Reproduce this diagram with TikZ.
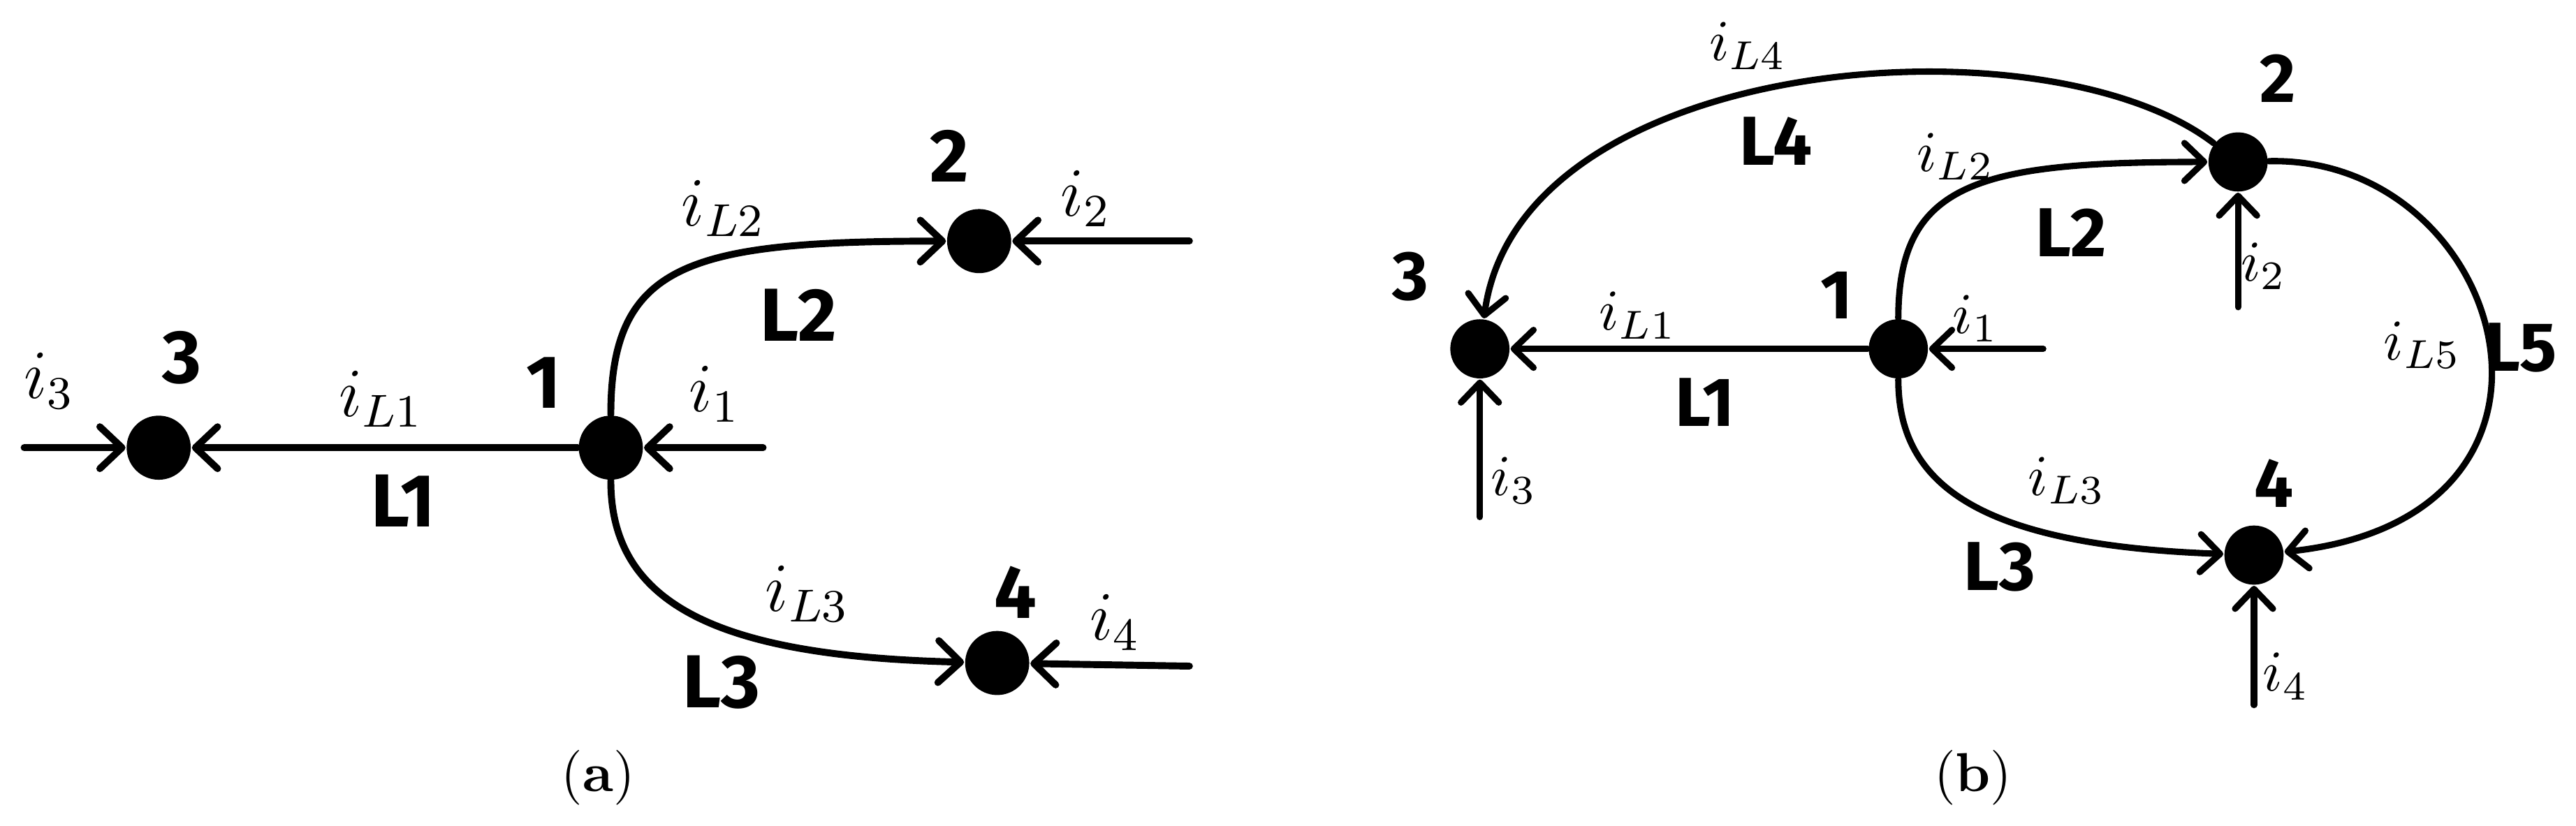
\documentclass[tikz,border=0pt]{standalone}
\usepackage{fontspec}
\newfontfamily\busfont{Fira Sans}
\usetikzlibrary{arrows.meta}

\begin{document}
\begin{tikzpicture}[x=0.01cm, y=-0.01cm, line cap=round,
		bus/.style={circle, fill=black, inner sep=0pt, minimum size=3.9mm},
		num/.style={font=\busfont\bfseries\fontsize{13}{15}\selectfont, inner sep=0pt},
		cur/.style={font=\fontsize{11.5}{13}\selectfont, inner sep=0pt},
		subcap/.style={font=\fontsize{9.5}{11}\selectfont, inner sep=0pt},
		wire/.style={line width=1.2pt},
		arr/.style={wire, -{Straight Barb[length=1.35mm, width=2.55mm, round]}}]
		\useasboundingbox (0,0) rectangle (1568,502.6);

		% (a) radial feeder
		\draw (96.6,272.6) node [bus] (a3) {};
		\draw (371.8,272.6) node [bus] (a1) {};
		\draw (596,146.8) node [bus] (a2) {};
		\draw (607,403.7) node [bus] (a4) {};
		\coordinate (a3in) at (14.7,272.6);
		\coordinate (a1in) at (464.5,272.6);
		\coordinate (a2in) at (724,146.8);
		\coordinate (a4in) at (724,405.6);

		\draw [arr] (a3in) -- (a3);
		\draw [arr] (a1) -- (a3);
		\draw [arr] (a1in) -- (a1);
		\draw [arr] (a2in) -- (a2);
		\draw [arr] (a4in) -- (a4);
		\draw [arr] (a1) .. controls +(0,-113) and +(-176,0) .. (a2);
		\draw [arr] (a1) .. controls +(0,97) and +(-167,-4) .. (a4);

		\draw (110.6,218) node [num] (a3n) {3};
		\draw (331,233) node [num] (a1n) {1};
		\draw (578,95) node [num] (a2n) {2};
		\draw (618,360.6) node [num] (a4n) {4};
		\draw (245.6,305) node [num] (aL1) {L1};
		\draw (486,192) node [num] (aL2) {L2};
		\draw (439,415.4) node [num] (aL3) {L3};

		\draw (30,232) node [cur] (ai3) {$i_3$};
		\draw (232,243) node [cur] (aiL1) {$i_{L1}$};
		\draw (435,240) node [cur] (ai1) {$i_1$};
		\draw (440.5,127) node [cur] (aiL2) {$i_{L2}$};
		\draw (661,121) node [cur] (ai2) {$i_2$};
		\draw (491.5,361.7) node [cur] (aiL3) {$i_{L3}$};
		\draw (679,379) node [cur] (ai4) {$i_4$};

		\draw (364,473.5) node [subcap] (acap) {(\textbf{a})};

		% (b) meshed network
		\begin{scope}[bus/.style={circle, fill=black, inner sep=0pt, minimum size=3.6mm},
				num/.style={font=\busfont\bfseries\fontsize{12}{14}\selectfont, inner sep=0pt},
				cur/.style={font=\fontsize{10}{12}\selectfont, inner sep=0pt},
				wire/.style={line width=1.1pt},
				arr/.style={wire, -{Straight Barb[length=1.2mm, width=2.3mm, round]}}]
			\draw (900.8,212.4) node [bus] (b3) {};
			\draw (1155.5,212.4) node [bus] (b1) {};
			\draw (1362.3,98.6) node [bus] (b2) {};
			\draw (1372,338) node [bus] (b4) {};
			\coordinate (b3in) at (900.8,314.8);
			\coordinate (b1in) at (1243.7,212.4);
			\coordinate (b2in) at (1362.3,187);
			\coordinate (b4in) at (1372,429.3);

			\draw [arr] (b1) -- (b3);
			\draw [arr] (b3in) -- (b3);
			\draw [arr] (b1in) -- (b1);
			\draw [arr] (b2in) -- (b2);
			\draw [arr] (b4in) -- (b4);
			\draw [arr] (b1) .. controls +(0,-102) and +(-157,0) .. (b2);
			\draw [arr] (b1) .. controls +(0,83) and +(-167,-6) .. (b4);
			\draw [arr] (b2) .. controls +(-117,-90) and +(24,-180) .. (b3);
			\draw [arr] (b2) .. controls +(163,-4) and +(218,-23) .. (b4);

			\draw (858.7,168.5) node [num] (b3n) {3};
			\draw (1117.8,179.7) node [num] (b1n) {1};
			\draw (1386.5,47.7) node [num] (b2n) {2};
			\draw (1384.1,294.2) node [num] (b4n) {4};
			\draw (1037.8,244.9) node [num] (bL1) {L1};
			\draw (1260.6,141.5) node [num] (bL2) {L2};
			\draw (1217,345) node [num] (bL3) {L3};
			\draw (1081,86) node [num] (bL4) {L4};
			\draw (1534.3,211.5) node [num] (bL5) {L5};

			\draw (921.6,292.6) node [cur] (bi3) {$i_3$};
			\draw (997,192) node [cur] (biL1) {$i_{L1}$};
			\draw (1202.5,194) node [cur] (bi1) {$i_1$};
			\draw (1190.4,95.4) node [cur] (biL2) {$i_{L2}$};
			\draw (1378,162) node [cur] (bi2) {$i_2$};
			\draw (1064,28) node [cur] (biL4) {$i_{L4}$};
			\draw (1474.5,210) node [cur] (biL5) {$i_{L5}$};
			\draw (1258.2,292.6) node [cur] (biL3) {$i_{L3}$};
			\draw (1391.4,411.8) node [cur] (bi4) {$i_4$};

			\draw (1201,473.5) node [subcap] (bcap) {(\textbf{b})};
		\end{scope}
	\end{tikzpicture}
\end{document}
